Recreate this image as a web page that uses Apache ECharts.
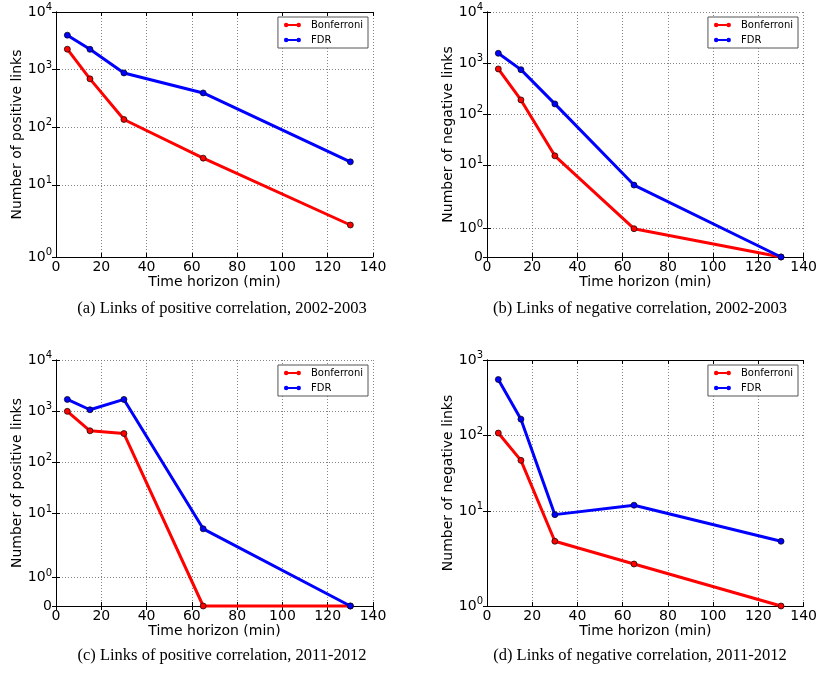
<!DOCTYPE html>
<html><head><meta charset="utf-8">
<script src="https://cdn.jsdelivr.net/npm/echarts@6/dist/echarts.min.js"></script>
<style>html,body{margin:0;padding:0;background:#fff}#c{width:820px;height:673px}</style>
</head><body><div id="c"></div>
<script>
// ---- data ----
const timeHorizons = [5, 15, 30, 65, 130];
const xTickInterval = 20;
const xMin = 0, xMax = 140;

const bonfPos0203 = [2260, 690, 136, 29, 2];
const fdrPos0203  = [3960, 2250, 875, 393, 25];
const bonfNeg0203 = [762, 188, 15, 1, 0];
const fdrNeg0203  = [1545, 738, 157, 4, 0];
const bonfPos1112 = [990, 413, 365, 0, 0];
const fdrPos1112  = [1695, 1065, 1695, 5, 0];
const bonfNeg1112 = [108, 47, 4, 2, 1];
const fdrNeg1112  = [552, 165, 9, 12, 4];

const yTicksA = [1, 10, 100, 1000, 10000];
const yTicksB = [0, 1, 10, 100, 1000, 10000];
const yTicksC = [0, 1, 10, 100, 1000, 10000];
const yTicksD = [1, 10, 100, 1000];

const yNames = ['Number of positive links', 'Number of negative links', 'Number of positive links', 'Number of negative links'];
const captions = ['(a) Links of positive correlation, 2002-2003', '(b) Links of negative correlation, 2002-2003',
                  '(c) Links of positive correlation, 2011-2012', '(d) Links of negative correlation, 2011-2012'];
const seriesNames = ['Bonferroni', 'FDR'];
const seriesColors = ['#ff0000', '#0000ff'];

// ---- symmetric log scale (linthresh 2, linscale 1, base 10) ----
const LINTHRESH = 2, LINADJ = 1 / (1 - 1 / 10);
function symlog(v) {
  const a = Math.abs(v), s = Math.sign(v);
  return a <= LINTHRESH ? s * a / LINTHRESH * LINADJ : s * (LINADJ + Math.log10(a / LINTHRESH));
}

const panels = [
  { ticks: yTicksA, bonf: bonfPos0203, fdr: fdrPos0203 },
  { ticks: yTicksB, bonf: bonfNeg0203, fdr: fdrNeg0203 },
  { ticks: yTicksC, bonf: bonfPos1112, fdr: fdrPos1112 },
  { ticks: yTicksD, bonf: bonfNeg1112, fdr: fdrNeg1112 }
];
const gridPos = [
  { left: 56, top: 12, width: 317, height: 245 },
  { left: 487, top: 12, width: 317, height: 245 },
  { left: 56, top: 360, width: 317, height: 246 },
  { left: 487, top: 360, width: 317, height: 246 }
];
const captionPos = [[222, 309], [640, 309], [222, 656], [640, 656]];
const legendPos = [{ right: 452, top: 17 }, { right: 22, top: 17 }, { right: 452, top: 365 }, { right: 22, top: 365 }];

const FONT = 'DejaVu Sans';
const tickFont = 14;

function tickLabel(t) {
  if (t === 0) return '{b|0}';
  return '{b|10}{s|' + Math.round(Math.log10(t)) + '}';
}
const rich = {
  b: { fontSize: tickFont, fontFamily: FONT, color: '#000' },
  s: { fontSize: 10, fontFamily: FONT, color: '#000', padding: [0, 0, 9, 0] }
};
const legendIcon = 'path://M0,3a3,3 0 1,1 6,0a3,3 0 1,1 -6,0Z M17,3a3,3 0 1,1 6,0a3,3 0 1,1 -6,0Z M5.8,1.8L17.2,1.8L17.2,4.2L5.8,4.2Z';

const grid = [], xAxis = [], yAxis = [], series = [], legend = [], graphic = [];
panels.forEach((p, i) => {
  grid.push(Object.assign({ containLabel: false }, gridPos[i]));
  const yMin = symlog(p.ticks[0]), yMaxV = symlog(p.ticks[p.ticks.length - 1]);
  const yCustom = p.ticks.map(symlog);
  xAxis.push({
    type: 'value', gridIndex: i, min: xMin, max: xMax, interval: xTickInterval,
    name: 'Time horizon (min)', nameLocation: 'middle', nameGap: 16,
    nameTextStyle: { fontFamily: FONT, fontSize: 14, color: '#000' },
    axisLine: { show: true, lineStyle: { color: '#000', width: 1 } },
    axisTick: { show: true, inside: true, length: 4, lineStyle: { color: '#000' } },
    axisLabel: { fontFamily: FONT, fontSize: tickFont, color: '#000', margin: 3, showMinLabel: true, showMaxLabel: true },
    splitLine: { show: true, lineStyle: { type: [1, 2], color: '#666', width: 0.8 } }
  });
  yAxis.push({
    type: 'value', gridIndex: i, min: yMin, max: yMaxV,
    name: yNames[i], nameLocation: 'middle', nameGap: 31, nameRotate: 90,
    nameTextStyle: { fontFamily: FONT, fontSize: 14, color: '#000' },
    axisLine: { show: true, lineStyle: { color: '#000', width: 1 } },
    axisTick: { show: true, inside: true, length: 4, customValues: yCustom, lineStyle: { color: '#000' } },
    axisLabel: {
      customValues: yCustom, margin: 4,
      formatter: v => { const t = p.ticks.find(t => Math.abs(symlog(t) - v) < 1e-6); return t === undefined ? '' : tickLabel(t); },
      rich: rich
    },
    splitLine: { show: true, lineStyle: { type: [1, 2], color: '#666', width: 0.8 } }
  });
  [p.bonf, p.fdr].forEach((vals, k) => {
    const col = seriesColors[k];
    series.push({
      type: 'line', name: seriesNames[k], xAxisIndex: i, yAxisIndex: i,
      data: timeHorizons.map((x, j) => [x, symlog(vals[j])]),
      symbol: 'circle', symbolSize: 6, showSymbol: true,
      color: col,
      lineStyle: { color: col, width: 3 },
      itemStyle: { color: col, borderColor: '#000', borderWidth: 0.7 },
      animation: false, clip: false, z: 3 + k
    });
  });
  legend.push(Object.assign({
    orient: 'vertical',
    data: seriesNames.map((n, k) => ({ name: n, icon: legendIcon, itemStyle: { color: seriesColors[k], borderWidth: 0 } })),
    itemWidth: 17, itemHeight: 6, itemGap: 3,
    padding: [2, 5, 2, 6], borderColor: '#555', borderWidth: 1, backgroundColor: '#fff',
    itemStyle: { borderWidth: 0 }, lineStyle: { width: 0 },
    textStyle: { fontFamily: FONT, fontSize: 10, color: '#000', lineHeight: 12, padding: [0, 0, 0, 5] },
    selectedMode: false
  }, legendPos[i]));
  graphic.push({
    type: 'text', x: captionPos[i][0], y: captionPos[i][1],
    style: { text: captions[i], fill: '#000', font: '16.5px "Liberation Serif"', textAlign: 'center', textVerticalAlign: 'middle' }
  });
});
// mirrored axes for ticks on top and right
panels.forEach((p, i) => {
  const yCustom = p.ticks.map(symlog);
  xAxis.push({
    type: 'value', gridIndex: i, position: 'top', min: xMin, max: xMax, interval: xTickInterval,
    axisLine: { show: true, lineStyle: { color: '#000', width: 1 } },
    axisTick: { show: true, inside: true, length: 4, lineStyle: { color: '#000' } },
    axisLabel: { show: false }, splitLine: { show: false }
  });
  yAxis.push({
    type: 'value', gridIndex: i, position: 'right', min: symlog(p.ticks[0]), max: symlog(p.ticks[p.ticks.length - 1]),
    axisLine: { show: true, lineStyle: { color: '#000', width: 1 } },
    axisTick: { show: true, inside: true, length: 4, customValues: yCustom, lineStyle: { color: '#000' } },
    axisLabel: { show: false }, splitLine: { show: false }
  });
});

const chart = echarts.init(document.getElementById('c'), null, { renderer: 'canvas' });
chart.setOption({ backgroundColor: '#fff', animation: false, grid, xAxis, yAxis, series, legend, graphic });
</script></body></html>
